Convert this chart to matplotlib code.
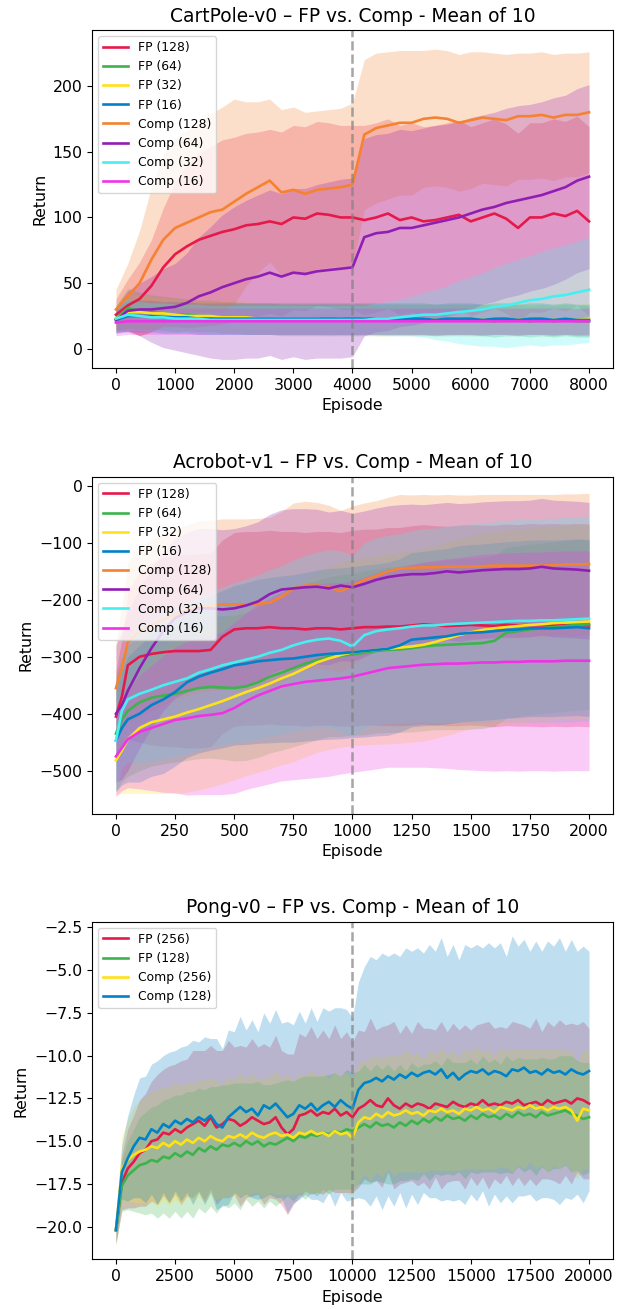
import numpy as np
import matplotlib
matplotlib.use("Agg")
import matplotlib.pyplot as plt

# ---------------- colours ----------------
C_RED = "#e6194B"
C_GREEN = "#3cb44b"
C_YELLOW = "#ffe119"
C_BLUE = "#0082c8"
C_ORANGE = "#f58231"
C_PURPLE = "#911eb4"
C_CYAN = "#46f0f0"
C_MAGENTA = "#f032e6"

# ---------------- CartPole-v0 ----------------
cp_episodes = list(range(0, 8001, 200))
cp_labels = ["FP (128)", "FP (64)", "FP (32)", "FP (16)",
             "Comp (128)", "Comp (64)", "Comp (32)", "Comp (16)"]
cp_fp128 = [26, 33, 38, 48, 62, 72, 78, 83, 86, 89, 91, 94, 95, 97, 95, 100, 99, 103, 102, 100,
            100, 98, 100, 103, 98, 100, 97, 98, 100, 102, 97, 100, 103, 99, 92, 100, 100, 103, 101, 105, 97]
cp_fp64 = [23, 31, 29, 28, 27, 26, 26, 25, 25, 24, 24, 23, 23, 23, 22, 22, 22, 22, 22, 22,
           22, 22, 22, 22, 22, 22, 22, 22, 22, 22, 22, 22, 21, 22, 22, 21, 22, 21, 22, 21, 21]
cp_fp32 = [23, 28, 28, 27, 27, 26, 25, 25, 25, 24, 24, 24, 23, 23, 23, 23, 23, 23, 22, 23,
           22, 23, 22, 22, 23, 22, 23, 22, 22, 23, 22, 22, 23, 22, 22, 23, 22, 22, 23, 22, 23]
cp_fp16 = [22, 25, 25, 25, 24, 24, 24, 23, 23, 23, 23, 23, 23, 23, 23, 23, 23, 23, 23, 23,
           23, 23, 23, 23, 23, 23, 23, 22, 23, 23, 23, 22, 23, 23, 22, 23, 23, 22, 23, 22, 22]
cp_comp128 = [30, 40, 50, 68, 83, 92, 96, 100, 104, 106, 112, 118, 123, 128, 119, 121, 118, 121, 122, 123,
              125, 163, 168, 170, 172, 172, 175, 176, 175, 172, 174, 176, 175, 174, 177, 177, 178, 176, 178, 178, 180]
cp_comp64 = [22, 29, 30, 30, 31, 32, 35, 40, 43, 47, 50, 53, 55, 58, 55, 58, 57, 59, 60, 61,
             62, 85, 88, 89, 92, 92, 94, 96, 98, 100, 103, 106, 108, 111, 113, 115, 117, 120, 123, 128, 131]
cp_comp32 = [23, 26, 25, 24, 24, 23, 23, 23, 22, 22, 22, 22, 22, 22, 22, 22, 22, 22, 22, 22,
             22, 22, 23, 23, 24, 25, 26, 26, 27, 28, 29, 30, 32, 33, 35, 37, 38, 40, 41, 43, 45]
cp_comp16 = [20, 21, 21, 21, 21, 21, 21, 21, 21, 21, 21, 21, 21, 21, 21, 21, 21, 21, 21, 21,
             21, 21, 21, 21, 21, 21, 21, 21, 21, 21, 21, 21, 21, 21, 21, 21, 21, 21, 21, 21, 21]
cp_fp128_std = [12, 20, 28, 35, 45, 55, 62, 66, 68, 70, 70, 70, 70, 70, 70, 70, 70, 70, 70, 70,
                70, 72, 72, 72, 72, 72, 72, 72, 72, 72, 72, 72, 72, 72, 72, 72, 72, 72, 72, 72, 72]
cp_fp64_std = [10, 15, 14, 13, 13, 13, 12, 12, 12, 12, 12, 12, 12, 12, 12, 12, 12, 12, 12, 12,
               12, 12, 12, 12, 12, 12, 12, 12, 12, 12, 12, 12, 12, 12, 12, 12, 12, 12, 12, 12, 12]
cp_fp32_std = [10, 13, 13, 13, 12, 12, 12, 12, 12, 12, 12, 12, 12, 12, 12, 12, 12, 12, 12, 12,
               12, 12, 12, 12, 12, 12, 12, 12, 12, 12, 12, 12, 12, 12, 12, 12, 12, 12, 12, 12, 12]
cp_fp16_std = [10, 12, 12, 12, 12, 12, 12, 12, 12, 12, 12, 12, 12, 12, 12, 12, 12, 12, 12, 12,
               12, 12, 12, 12, 12, 12, 12, 12, 12, 12, 12, 12, 12, 12, 12, 12, 12, 12, 12, 12, 12]
cp_comp128_std = [15, 25, 40, 55, 65, 68, 70, 72, 75, 78, 78, 70, 65, 62, 63, 63, 62, 60, 60, 60,
                  62, 57, 57, 56, 55, 55, 52, 52, 52, 52, 52, 50, 50, 50, 48, 48, 48, 48, 47, 47, 46]
cp_comp64_std = [10, 15, 20, 25, 30, 33, 38, 45, 50, 55, 58, 60, 62, 63, 63, 64, 65, 66, 67, 68,
                 68, 75, 75, 75, 75, 74, 74, 74, 73, 73, 73, 72, 72, 72, 72, 71, 71, 71, 70, 70, 70]
cp_comp32_std = [10, 12, 11, 11, 11, 11, 11, 11, 11, 11, 11, 11, 11, 11, 11, 11, 11, 11, 11, 11,
                 11, 11, 12, 13, 14, 15, 17, 19, 21, 24, 26, 28, 30, 32, 33, 34, 36, 37, 38, 39, 40]
cp_comp16_std = [10, 10, 10, 10, 10, 10, 10, 10, 10, 10, 10, 10, 10, 10, 10, 10, 10, 10, 10, 10,
                 10, 10, 10, 10, 10, 10, 10, 10, 10, 10, 10, 10, 10, 10, 10, 10, 10, 10, 10, 10, 10]

# ---------------- Acrobot-v1 ----------------
ac_episodes = [0, 25] + list(range(50, 2001, 50))
ac_labels = cp_labels
ac_fp128 = [-405, -370, -315, -300, -295, -292, -290, -290, -290, -288, -265, -252, -250, -250,
            -248, -250, -250, -252, -250, -250, -252, -250, -248, -248, -247, -247, -245, -243,
            -245, -246, -245, -244, -245, -246, -244, -245, -244, -245, -244, -245, -244, -245]
ac_fp64 = [-435, -410, -395, -380, -372, -368, -365, -360, -355, -353, -354, -355, -352, -345,
           -335, -328, -320, -312, -306, -300, -298, -296, -293, -290, -288, -287, -285, -282,
           -280, -279, -278, -277, -276, -272, -258, -255, -252, -250, -248, -246, -244, -243]
ac_fp32 = [-482, -465, -445, -425, -415, -410, -405, -398, -392, -385, -378, -370, -362, -355,
           -347, -338, -330, -320, -310, -303, -297, -292, -290, -288, -286, -284, -282, -279,
           -274, -268, -262, -257, -253, -250, -248, -246, -244, -243, -241, -240, -239, -238]
ac_fp16 = [-447, -425, -410, -400, -385, -375, -362, -345, -335, -328, -322, -315, -312, -308,
           -306, -304, -303, -300, -297, -295, -294, -292, -290, -288, -286, -280, -270, -268,
           -266, -264, -260, -258, -257, -255, -253, -252, -250, -250, -250, -249, -248, -250]
ac_comp128 = [-355, -320, -275, -255, -245, -235, -225, -218, -212, -210, -208, -208, -208, -207,
              -205, -195, -180, -175, -175, -178, -185, -175, -165, -158, -150, -145, -144, -143,
              -143, -142, -142, -142, -141, -140, -140, -140, -140, -140, -139, -138, -138, -137]
ac_comp64 = [-400, -385, -360, -320, -285, -255, -232, -222, -215, -215, -217, -215, -210, -203,
             -190, -182, -180, -178, -177, -180, -175, -178, -172, -165, -160, -157, -155, -155,
             -153, -150, -152, -150, -148, -147, -146, -146, -145, -142, -145, -146, -147, -149]
ac_comp32 = [-447, -395, -375, -365, -358, -350, -344, -338, -328, -322, -315, -310, -305, -300,
             -293, -288, -280, -274, -270, -268, -272, -282, -262, -255, -252, -250, -247, -245,
             -245, -243, -242, -241, -240, -239, -238, -237, -237, -236, -236, -235, -234, -233]
ac_comp16 = [-475, -460, -445, -432, -425, -418, -411, -408, -404, -402, -399, -390, -378, -368,
             -360, -352, -348, -344, -342, -340, -338, -335, -330, -325, -320, -318, -316, -314,
             -313, -312, -312, -311, -310, -310, -309, -309, -308, -308, -308, -307, -307, -307]
ac_fp128_std = [80, 100, 130, 150, 160, 165, 168, 170, 170, 170, 170, 170, 170, 170,
                170, 170, 170, 170, 170, 170, 170, 172, 172, 172, 174, 174, 175, 175,
                175, 175, 176, 176, 176, 177, 177, 177, 178, 178, 178, 178, 178, 178]
ac_fp64_std = [100, 110, 115, 120, 120, 120, 120, 122, 124, 125, 126, 128, 130, 132,
               134, 136, 138, 140, 140, 140, 142, 142, 144, 144, 145, 146, 147, 148,
               148, 149, 150, 150, 150, 150, 150, 150, 150, 150, 150, 150, 150, 150]
ac_fp32_std = [60, 75, 95, 115, 125, 130, 135, 140, 142, 144, 145, 146, 147, 148,
               150, 152, 154, 156, 158, 160, 162, 164, 165, 166, 167, 168, 168, 169,
               169, 170, 170, 170, 170, 170, 170, 170, 170, 170, 170, 170, 170, 170]
ac_fp16_std = [90, 100, 110, 120, 125, 130, 130, 132, 134, 136, 138, 140, 142, 144,
               145, 146, 147, 148, 149, 150, 150, 150, 151, 151, 152, 152, 153, 153,
               154, 154, 155, 155, 155, 155, 155, 155, 155, 155, 155, 155, 155, 155]
ac_comp128_std = [80, 110, 140, 150, 150, 150, 150, 150, 150, 150, 150, 150, 150, 150,
                  150, 150, 150, 148, 146, 144, 142, 140, 135, 132, 130, 130, 128, 128,
                  127, 127, 126, 126, 126, 125, 125, 125, 125, 125, 124, 124, 124, 124]
ac_comp64_std = [120, 130, 140, 140, 140, 140, 140, 140, 140, 140, 140, 140, 140, 140,
                 140, 140, 140, 138, 136, 134, 132, 130, 128, 126, 125, 124, 123, 122,
                 122, 121, 121, 120, 120, 120, 120, 120, 120, 120, 120, 120, 120, 120]
ac_comp32_std = [90, 100, 110, 120, 125, 128, 130, 132, 134, 136, 138, 140, 142, 144,
                 146, 148, 150, 152, 154, 156, 158, 160, 162, 164, 165, 166, 168, 170,
                 171, 172, 173, 174, 175, 176, 177, 178, 178, 179, 179, 180, 180, 180]
ac_comp16_std = [70, 75, 85, 100, 110, 120, 128, 135, 138, 140, 143, 150, 155, 160,
                 163, 166, 168, 170, 170, 170, 168, 168, 170, 172, 174, 176, 178, 180,
                 182, 184, 186, 188, 190, 191, 191, 192, 192, 192, 193, 193, 193, 193]

# ---------------- Pong-v0 ----------------
pg_episodes = list(range(0, 20001, 250))
pg_labels = ["FP (256)", "FP (128)", "Comp (256)", "Comp (128)"]
pg_fp256 = [-20.2, -17.4, -16.6, -16.2, -15.7, -15.5, -15.0, -14.9, -14.5, -14.6,
            -14.3, -14.5, -14.2, -14.0, -13.8, -14.1, -13.6, -14.2, -14.0, -13.7,
            -13.8, -14.1, -13.9, -13.6, -13.8, -14.0, -13.9, -13.6, -14.2, -14.6,
            -14.3, -13.5, -13.4, -13.2, -13.5, -13.3, -13.4, -13.1, -13.5, -13.3,
            -13.6, -13.1, -12.9, -12.6, -12.9, -13.0, -12.5, -12.9, -13.1, -12.8,
            -13.0, -12.8, -12.9, -13.1, -12.8, -12.9, -13.0, -12.7, -12.9, -13.0,
            -12.8, -12.9, -12.6, -12.9, -12.8, -12.9, -12.7, -12.8, -12.6, -12.9,
            -12.8, -12.7, -12.9, -12.6, -12.8, -12.7, -12.6, -12.8, -12.5, -12.6,
            -12.8]
pg_fp128 = [-20.2, -17.6, -17.0, -16.7, -16.4, -16.3, -16.1, -16.2, -15.9, -16.0,
            -15.7, -15.9, -15.6, -15.8, -15.4, -15.6, -15.3, -15.5, -15.2, -15.3,
            -15.1, -15.3, -15.0, -15.2, -15.0, -15.3, -15.1, -15.2, -15.0, -14.8,
            -15.0, -14.7, -14.8, -14.6, -14.7, -14.5, -14.6, -14.4, -14.5, -14.3,
            -14.4, -14.2, -14.0, -14.2, -13.9, -14.1, -14.0, -14.2, -13.9, -14.1,
            -13.8, -14.0, -13.7, -13.9, -13.6, -13.8, -13.5, -13.7, -13.6, -13.8,
            -13.5, -13.7, -13.4, -13.6, -13.5, -13.7, -13.4, -13.6, -13.3, -13.5,
            -13.4, -13.6, -13.3, -13.5, -13.4, -13.3, -13.2, -13.4, -13.5, -13.7,
            -13.6]
pg_comp256 = [-20.2, -16.6, -16.1, -15.8, -15.6, -15.5, -15.3, -15.4, -15.1, -15.3,
              -15.0, -15.2, -14.9, -15.1, -14.8, -15.0, -14.7, -14.9, -15.0, -14.7,
              -14.8, -14.6, -14.8, -14.5, -14.7, -14.8, -14.6, -14.5, -14.7, -14.6,
              -14.8, -14.5, -14.6, -14.4, -14.6, -14.5, -14.7, -14.4, -14.6, -14.5,
              -14.8, -13.9, -13.6, -13.7, -13.4, -13.6, -13.3, -13.5, -13.4, -13.2,
              -13.4, -13.3, -13.5, -13.2, -13.3, -13.1, -13.3, -13.2, -13.4, -13.1,
              -13.2, -13.0, -13.2, -13.1, -13.3, -13.0, -13.1, -13.2, -13.0, -13.1,
              -12.9, -13.1, -13.0, -13.2, -13.0, -13.1, -13.0, -13.2, -13.8, -13.1,
              -13.2]
pg_comp128 = [-20.2, -16.8, -16.0, -15.3, -14.8, -14.9, -14.3, -14.5, -14.0, -14.2,
              -13.8, -14.0, -13.7, -13.9, -13.6, -13.8, -13.5, -14.0, -14.2, -13.6,
              -13.3, -13.0, -13.3, -13.1, -13.5, -12.9, -13.1, -12.8, -13.2, -13.6,
              -13.4, -12.9, -13.1, -12.8, -13.2, -12.9, -12.7, -13.0, -12.6, -12.9,
              -13.1, -12.0, -11.6, -11.5, -11.3, -11.5, -11.2, -11.4, -11.1, -11.3,
              -11.0, -11.2, -11.0, -10.9, -11.1, -10.8, -11.3, -11.0, -11.4, -11.1,
              -10.9, -11.0, -10.8, -11.1, -10.9, -11.0, -11.2, -10.8, -10.9, -10.7,
              -11.0, -10.9, -11.1, -10.8, -11.0, -10.9, -11.1, -10.8, -11.0, -11.1,
              -10.9]
pg_fp256_std = [0.8, 1.6, 2.3, 2.7, 3.1, 3.3, 3.5, 3.8, 3.7, 4.0,
                3.8, 4.2, 4.0, 4.3, 4.1, 4.4, 4.2, 4.5, 4.3, 4.6,
                4.3, 4.7, 4.4, 4.6, 4.3, 4.7, 4.4, 4.8, 4.5, 4.7,
                4.4, 4.8, 4.5, 4.9, 4.5, 4.8, 4.4, 4.9, 4.5, 4.7,
                4.4, 4.6, 4.3, 4.8, 4.4, 4.7, 4.3, 4.9, 4.4, 4.6,
                4.3, 4.8, 4.5, 4.7, 4.3, 4.9, 4.4, 4.6, 4.4, 4.8,
                4.3, 4.7, 4.5, 4.9, 4.4, 4.6, 4.3, 4.8, 4.5, 4.7,
                4.4, 4.9, 4.3, 4.6, 4.5, 4.8, 4.4, 4.7, 4.3, 4.6,
                4.4]
pg_fp128_std = [0.8, 1.5, 2.0, 2.4, 2.8, 3.0, 3.1, 3.3, 3.3, 3.5,
                3.4, 3.6, 3.5, 3.7, 3.5, 3.6, 3.5, 3.7, 3.5, 3.6,
                3.5, 3.7, 3.4, 3.6, 3.5, 3.6, 3.4, 3.6, 3.5, 3.4,
                3.5, 3.4, 3.6, 3.4, 3.5, 3.3, 3.5, 3.4, 3.3, 3.5,
                3.4, 3.3, 3.5, 3.3, 3.4, 3.3, 3.5, 3.3, 3.4, 3.2,
                3.4, 3.3, 3.2, 3.4, 3.3, 3.2, 3.4, 3.3, 3.2, 3.4,
                3.3, 3.2, 3.4, 3.2, 3.3, 3.2, 3.4, 3.3, 3.2, 3.3,
                3.2, 3.4, 3.2, 3.3, 3.2, 3.3, 3.2, 3.4, 3.2, 3.3,
                3.2]
pg_comp256_std = [0.8, 1.9, 2.4, 2.8, 3.0, 3.1, 3.2, 3.4, 3.3, 3.5,
                  3.4, 3.5, 3.3, 3.5, 3.4, 3.6, 3.4, 3.5, 3.3, 3.5,
                  3.4, 3.6, 3.4, 3.5, 3.3, 3.5, 3.4, 3.6, 3.4, 3.5,
                  3.3, 3.5, 3.4, 3.6, 3.4, 3.5, 3.3, 3.5, 3.4, 3.5,
                  3.4, 3.5, 3.3, 3.6, 3.4, 3.5, 3.3, 3.5, 3.4, 3.6,
                  3.4, 3.5, 3.3, 3.5, 3.4, 3.6, 3.4, 3.5, 3.3, 3.5,
                  3.4, 3.6, 3.4, 3.5, 3.3, 3.5, 3.4, 3.6, 3.4, 3.5,
                  3.3, 3.5, 3.4, 3.6, 3.4, 3.5, 3.3, 3.5, 3.4, 3.5,
                  3.4]
pg_comp128_std = [0.8, 1.6, 2.5, 3.0, 3.5, 3.7, 3.8, 4.2, 4.0, 4.4,
                  4.1, 4.5, 4.3, 4.8, 4.4, 4.9, 4.5, 5.0, 4.6, 5.1,
                  4.7, 5.3, 4.8, 5.2, 4.9, 5.4, 5.0, 5.5, 5.1, 5.6,
                  5.2, 5.5, 5.0, 5.6, 5.2, 5.7, 5.3, 5.8, 5.4, 5.6,
                  5.3, 6.3, 6.8, 7.3, 6.9, 7.5, 7.0, 7.4, 6.9, 7.6,
                  7.1, 7.5, 7.0, 7.4, 7.2, 7.7, 7.1, 7.5, 7.0, 7.6,
                  7.2, 7.5, 7.1, 7.7, 7.2, 7.6, 7.0, 7.8, 7.3, 7.5,
                  7.1, 7.6, 7.2, 7.5, 7.4, 7.8, 7.2, 7.6, 7.1, 7.5,
                  7.0]

# ---------------- drawing ----------------
plt.rcParams['font.family'] = ['DejaVu Sans']
fig = plt.figure(figsize=(6.19, 13.09), dpi=100)

TICK_FS = 11.3
LEG_FS = 8.9
TITLE_FS = 13.4
LAB_FS = 11.3


def panel(rect, title, xs, means, stds, colors, labels, split, xlim, ylim, yticks):
    ax = fig.add_axes(rect)
    xs = np.asarray(xs, dtype=float)
    for m, s, c in zip(means, stds, colors):
        m = np.asarray(m, dtype=float)
        s = np.asarray(s, dtype=float)
        ax.fill_between(xs, m - s, m + s, color=c, alpha=0.25, linewidth=0)
    for m, c, lab in zip(means, colors, labels):
        ax.plot(xs, m, color=c, lw=1.9, label=lab)
    ax.axvline(split, color="gray", ls="--", lw=1.8, alpha=0.7)
    ax.set_xlim(*xlim)
    ax.set_ylim(*ylim)
    ax.set_yticks(yticks)
    ax.set_title(title, fontsize=TITLE_FS)
    ax.set_xlabel("Episode", fontsize=LAB_FS)
    ax.set_ylabel("Return", fontsize=LAB_FS)
    ax.tick_params(labelsize=TICK_FS)
    ax.legend(loc="upper left", fontsize=LEG_FS)
    return ax


cp_colors = [C_RED, C_GREEN, C_YELLOW, C_BLUE, C_ORANGE, C_PURPLE, C_CYAN, C_MAGENTA]
panel([0.1491, 0.7189, 0.8407, 0.2582], "CartPole-v0 \u2013 FP vs. Comp - Mean of 10",
      cp_episodes,
      [cp_fp128, cp_fp64, cp_fp32, cp_fp16, cp_comp128, cp_comp64, cp_comp32, cp_comp16],
      [cp_fp128_std, cp_fp64_std, cp_fp32_std, cp_fp16_std,
       cp_comp128_std, cp_comp64_std, cp_comp32_std, cp_comp16_std],
      cp_colors, cp_labels, 4000, (-400, 8400), (-14.5, 242.6), [0, 50, 100, 150, 200])

panel([0.1491, 0.3782, 0.8407, 0.2577], "Acrobot-v1 \u2013 FP vs. Comp - Mean of 10",
      ac_episodes,
      [ac_fp128, ac_fp64, ac_fp32, ac_fp16, ac_comp128, ac_comp64, ac_comp32, ac_comp16],
      [ac_fp128_std, ac_fp64_std, ac_fp32_std, ac_fp16_std,
       ac_comp128_std, ac_comp64_std, ac_comp32_std, ac_comp16_std],
      cp_colors, ac_labels, 1000, (-100, 2100), (-576, 16.3), [0, -100, -200, -300, -400, -500])

panel([0.1491, 0.0380, 0.8407, 0.2579], "Pong-v0 \u2013 FP vs. Comp - Mean of 10",
      pg_episodes,
      [pg_fp256, pg_fp128, pg_comp256, pg_comp128],
      [pg_fp256_std, pg_fp128_std, pg_comp256_std, pg_comp128_std],
      [C_RED, C_GREEN, C_YELLOW, C_BLUE], pg_labels, 10000, (-1000, 21000), (-21.9, -2.17),
      [-20.0, -17.5, -15.0, -12.5, -10.0, -7.5, -5.0, -2.5])

fig.savefig("out.png", dpi=100)
